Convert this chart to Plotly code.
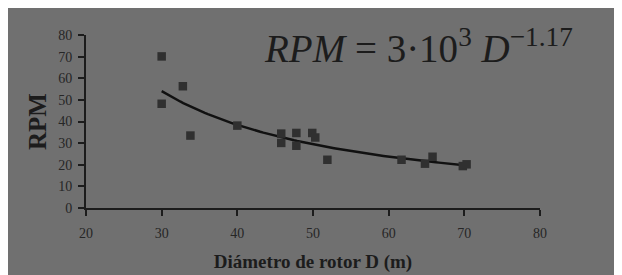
import numpy as np
import plotly.graph_objects as go

# Data
diametro = [30, 30, 32.8, 33.8, 40.0, 45.8, 45.8, 47.8, 47.8, 49.9, 50.3, 51.9, 61.7, 64.8, 65.8, 69.8, 70.3]
rpm = [70.1, 48.2, 56.3, 33.5, 38.1, 34.4, 30.1, 34.7, 28.8, 34.7, 32.6, 22.3, 22.3, 20.5, 23.7, 19.4, 20.2]

x_ticks = [20, 30, 40, 50, 60, 70, 80]
y_ticks = [0, 10, 20, 30, 40, 50, 60, 70, 80]

# Power-law trend line fitted to the data (log-log least squares)
b, ln_a = np.polyfit(np.log(diametro), np.log(rpm), 1)
xt = np.linspace(min(diametro), max(diametro), 100)
yt = np.exp(ln_a) * xt ** b

BG = "#707070"
DARK = "#1c1c1c"

fig = go.Figure()
fig.add_trace(go.Scatter(x=xt, y=yt, mode="lines",
                         line=dict(color="#111111", width=2.5), hoverinfo="skip", showlegend=False))
fig.add_trace(go.Scatter(x=diametro, y=rpm, mode="markers",
                         marker=dict(symbol="square", size=8.5, color="#303030",
                                     line=dict(width=0)), showlegend=False))

W, H = 614, 267
L, R, T, B = 78, 82, 27, 67
pw, ph = W - L - R, H - T - B

fig.add_annotation(xref="paper", yref="paper", x=(254 - L) / pw, y=(H - B - 64) / ph,
                   xanchor="left", yanchor="bottom", showarrow=False,
                   text="<i>RPM</i> = 3·10<sup>3</sup> <i>D</i><sup>−1.17</sup>",
                   font=dict(family="Liberation Serif", size=39, color=DARK))

fig.update_layout(
    width=W, height=H,
    margin=dict(l=L, r=R, t=T, b=B, autoexpand=False),
    paper_bgcolor=BG, plot_bgcolor=BG,
    font=dict(family="Liberation Serif", color=DARK),
    xaxis=dict(range=[20, 80], tickvals=x_ticks, showgrid=False, zeroline=False,
               automargin=False,
               showline=True, linecolor=DARK, linewidth=2, ticks="outside",
               ticklen=6, tickwidth=1.5, tickcolor=DARK, ticklabelstandoff=5,
               tickfont=dict(size=14, color="#262626"),
               title=dict(text="<b>Diámetro de rotor D (m)</b>", standoff=15,
                          font=dict(size=19, color=DARK))),
    yaxis=dict(range=[0, 80], tickvals=y_ticks, showgrid=False, zeroline=False,
               automargin=False,
               showline=True, linecolor=DARK, linewidth=2, ticks="outside",
               ticklen=6, tickwidth=1.5, tickcolor=DARK, ticklabelstandoff=3,
               tickfont=dict(size=14, color="#262626"),
               title=dict(text="<b>RPM</b>", standoff=4,
                          font=dict(size=25, color=DARK))),
)

fig.write_html("out.html")
